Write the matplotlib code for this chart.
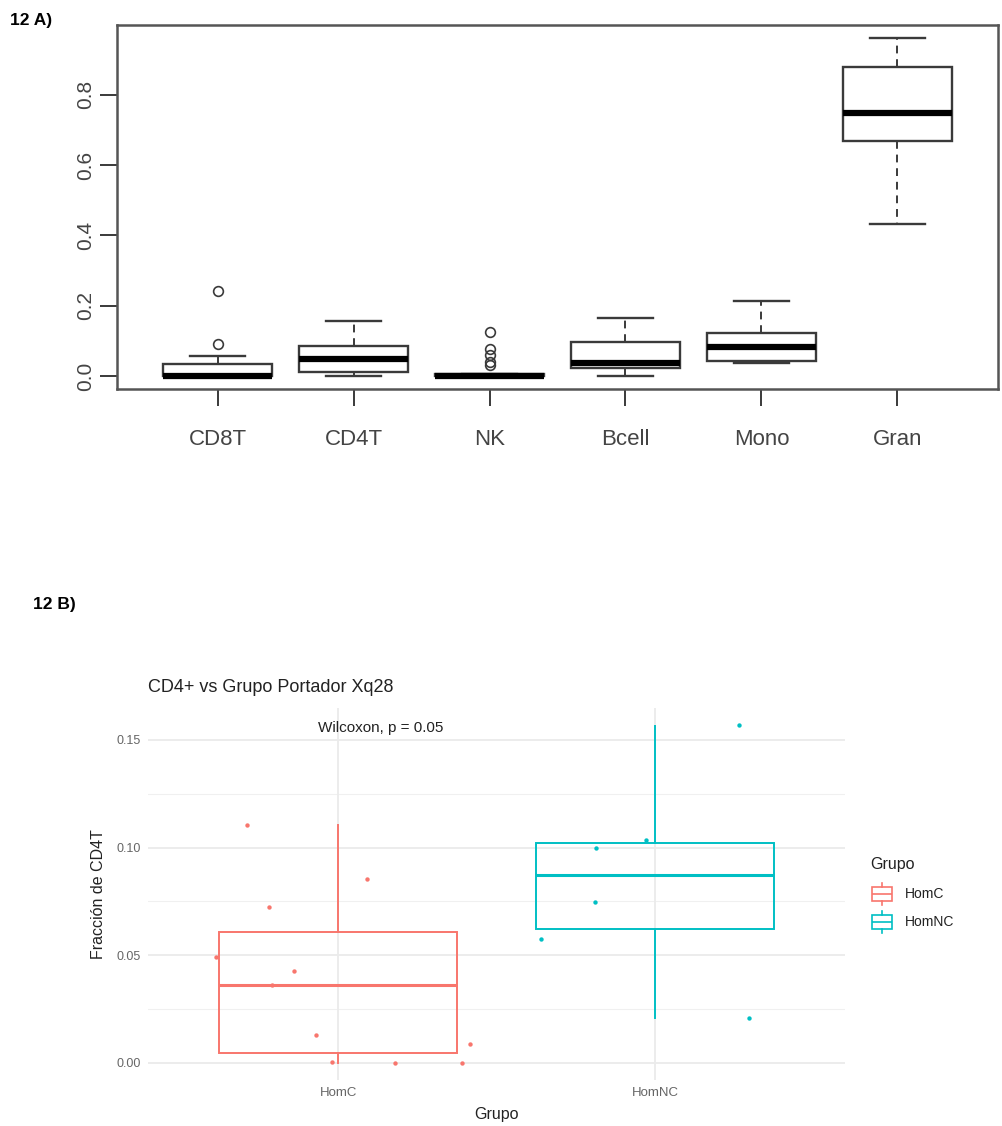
import matplotlib
matplotlib.use("Agg")
import matplotlib.pyplot as plt
import numpy as np

plt.rcParams['font.family'] = ['Liberation Sans', 'DejaVu Sans']

# panel A: summary stats per cell type
cell_types = ['CD8T', 'CD4T', 'NK', 'Bcell', 'Mono', 'Gran']
a_whislo = [0.0, 0.0, 0.0, 0.0, 0.038, 0.432]
a_q1 = [0.0, 0.012, 0.0, 0.022, 0.043, 0.669]
a_med = [0.0, 0.048, 0.0, 0.036, 0.082, 0.747]
a_q3 = [0.034, 0.086, 0.006, 0.098, 0.121, 0.879]
a_whishi = [0.057, 0.155, 0.006, 0.164, 0.212, 0.960]
a_fliers = [[0.091, 0.242], [], [0.124, 0.076, 0.060, 0.041, 0.031], [], [], []]

# panel B: CD4T fraction by group
groups = ['HomC', 'HomNC']
b_whislo = [0.0, 0.021]
b_q1 = [0.0046, 0.0621]
b_med = [0.0363, 0.0874]
b_q3 = [0.0606, 0.1023]
b_whishi = [0.1104, 0.1564]
homc_vals = [0.1107, 0.0856, 0.0724, 0.0494, 0.0426, 0.0363, 0.013, 0.0087, 0.0003, 0.0, 0.0]
homc_jit = [-0.289, 0.091, -0.217, -0.384, -0.139, -0.21, -0.07, 0.415, -0.02, 0.18, 0.39]
homnc_vals = [0.1569, 0.1035, 0.0997, 0.0747, 0.0575, 0.021]
homnc_jit = [0.267, -0.028, -0.187, -0.19, -0.361, 0.298]
group_colors = ['#F8766D', '#00BFC4']

W, H = 1002, 1126
fig = plt.figure(figsize=(W / 100, H / 100), dpi=100)


def rect(x0, y0, x1, y1):
    return [x0 / W, 1 - y1 / H, (x1 - x0) / W, (y1 - y0) / H]


# ---------------- panel A ----------------
ax = fig.add_axes(rect(117, 25, 998, 389))
stats = []
for i in range(len(cell_types)):
    stats.append(dict(whislo=a_whislo[i], q1=a_q1[i], med=a_med[i], q3=a_q3[i],
                      whishi=a_whishi[i], fliers=a_fliers[i]))
ec = '#3a3a3a'
ax.bxp(stats, positions=range(1, 7), widths=0.8, patch_artist=True,
       boxprops=dict(facecolor='white', edgecolor=ec, linewidth=1.7),
       medianprops=dict(color='black', linewidth=4.5, solid_capstyle='butt'),
       whiskerprops=dict(color=ec, linewidth=1.4, linestyle=(0, (4, 3))),
       capprops=dict(color=ec, linewidth=1.7),
       capwidths=0.4,
       flierprops=dict(marker='o', markerfacecolor='none', markeredgecolor=ec,
                       markersize=7, markeredgewidth=1.2))
ax.set_xlim(0.26, 6.74)
ax.set_ylim(-0.037, 0.998)
ax.set_yticks([0.0, 0.2, 0.4, 0.6, 0.8])
ax.set_yticklabels(['0.0', '0.2', '0.4', '0.6', '0.8'], rotation=90, va='center',
                   fontsize=15, color='#444444')
ax.set_xticks(range(1, 7))
ax.set_xticklabels(cell_types, fontsize=16, color='#444444')
ax.tick_params(axis='y', length=12, width=1.4, color=ec, pad=4)
ax.tick_params(axis='x', length=12, width=1.4, color=ec, pad=17)
for s in ax.spines.values():
    s.set_linewidth(1.8)
    s.set_color('#555555')

fig.text(10 / W, 1 - 20 / H, '12 A)', fontsize=12.5, fontweight='heavy', va='center')
fig.text(33 / W, 1 - 604 / H, '12 B)', fontsize=12.5, fontweight='heavy', va='center')

# ---------------- panel B ----------------
bx = fig.add_axes(rect(148, 708, 845, 1080))
bx.set_xlim(0.4, 2.6)
bx.set_ylim(-0.0079, 0.1648)
for y in [0.025, 0.075, 0.125]:
    bx.axhline(y, color='#f0f0f0', lw=0.8, zorder=0)
for y in [0.0, 0.05, 0.10, 0.15]:
    bx.axhline(y, color='#ebebeb', lw=1.3, zorder=0)
for x in [1, 2]:
    bx.axvline(x, color='#ebebeb', lw=1.3, zorder=0)

for i in range(len(groups)):
    st = [dict(whislo=b_whislo[i], q1=b_q1[i], med=b_med[i], q3=b_q3[i],
               whishi=b_whishi[i], fliers=[])]
    c = group_colors[i]
    bx.bxp(st, positions=[i + 1], widths=0.75, patch_artist=True,
           boxprops=dict(facecolor='none', edgecolor=c, linewidth=1.4),
           medianprops=dict(color=c, linewidth=2.2),
           whiskerprops=dict(color=c, linewidth=1.4),
           capprops=dict(linewidth=0), showcaps=False)

bx.scatter(1 + np.array(homc_jit), homc_vals, s=10, color=group_colors[0], zorder=3, lw=0)
bx.scatter(2 + np.array(homnc_jit), homnc_vals, s=10, color=group_colors[1], zorder=3, lw=0)

bx.text(1.136, 0.1555, 'Wilcoxon, p = 0.05', ha='center', va='center', fontsize=11, color='#222222')
bx.set_yticks([0.0, 0.05, 0.10, 0.15])
bx.set_yticklabels(['0.00', '0.05', '0.10', '0.15'], fontsize=9, color='#666666')
bx.set_xticks([1, 2])
bx.set_xticklabels(groups, fontsize=9.5, color='#666666')
bx.tick_params(length=0, pad=5)
for s in bx.spines.values():
    s.set_visible(False)
bx.set_ylabel('Fracción de CD4T', fontsize=11.5, color='#222222', labelpad=8)
bx.set_xlabel('Grupo', fontsize=11.5, color='#222222', labelpad=6)
fig.text(148 / W, 1 - 688 / H, 'CD4+ vs Grupo Portador Xq28', fontsize=13, color='#222222', va='center')

# legend, drawn with boxplot glyphs in a small axes
lg = fig.add_axes(rect(860, 850, 1000, 940))
lg.set_xlim(0, 140)
lg.set_ylim(90, 0)
lg.axis('off')
lg.text(10, 15, 'Grupo', fontsize=11.5, color='#222222', va='center')
for i, g in enumerate(groups):
    yc = 44 + i * 28
    lg.bxp([dict(whislo=yc + 11, q1=yc + 7, med=yc, q3=yc - 7, whishi=yc - 11, fliers=[])],
           positions=[22], widths=20, patch_artist=True, manage_ticks=False,
           boxprops=dict(facecolor='none', edgecolor=group_colors[i], linewidth=1.2),
           medianprops=dict(color=group_colors[i], linewidth=1.2),
           whiskerprops=dict(color=group_colors[i], linewidth=1.2), showcaps=False)
    lg.text(45, yc, g, fontsize=10, color='#222222', va='center')

fig.savefig('out.png', dpi=100)
